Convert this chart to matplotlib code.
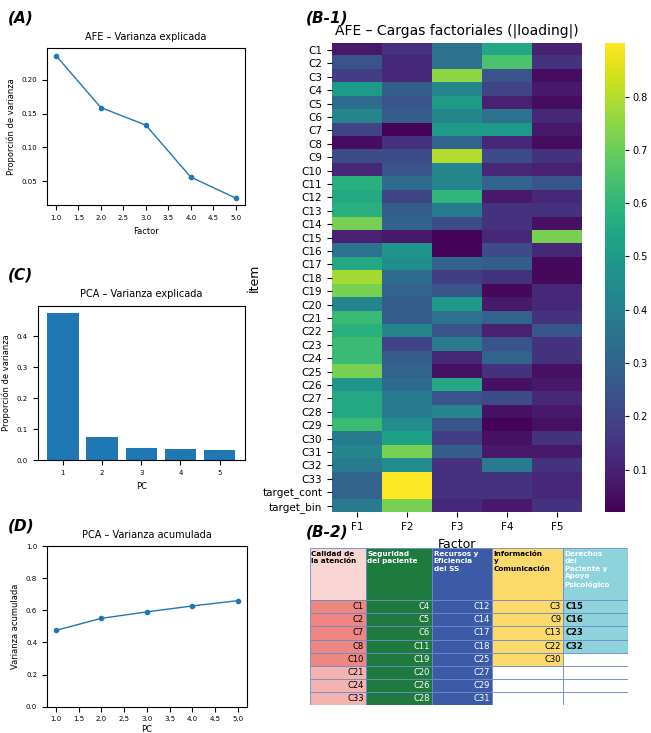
import matplotlib
matplotlib.use("Agg")
import matplotlib.pyplot as plt
import numpy as np
from matplotlib.patches import Rectangle

afe_var = [0.236, 0.159, 0.133, 0.056, 0.025]
factors = [1, 2, 3, 4, 5]
pca_var = [0.475, 0.075, 0.040, 0.037, 0.032]
pca_cum = [0.475, 0.550, 0.590, 0.627, 0.660]
items = [f"C{i}" for i in range(1, 34)] + ["target_cont", "target_bin"]
fac_labels = ["F1", "F2", "F3", "F4", "F5"]
loadings = [
    [.08, .15, .35, .55, .10], [.25, .12, .35, .65, .15], [.18, .12, .75, .25, .05],
    [.50, .28, .42, .20, .08], [.33, .25, .50, .10, .05], [.42, .28, .42, .35, .12],
    [.20, .03, .50, .50, .08], [.05, .15, .30, .12, .05], [.22, .22, .80, .22, .15],
    [.12, .25, .42, .12, .10], [.58, .33, .42, .30, .25], [.55, .20, .60, .08, .12],
    [.58, .28, .38, .15, .15], [.72, .30, .22, .15, .06], [.10, .08, .03, .12, .72],
    [.35, .48, .03, .22, .12], [.55, .45, .30, .28, .04], [.78, .33, .18, .15, .04],
    [.72, .30, .25, .04, .12], [.42, .28, .50, .08, .12], [.62, .28, .35, .30, .15],
    [.58, .42, .25, .10, .25], [.62, .20, .38, .25, .15], [.62, .28, .12, .30, .15],
    [.72, .30, .06, .15, .06], [.48, .33, .55, .06, .08], [.55, .38, .25, .22, .12],
    [.55, .38, .42, .06, .08], [.62, .45, .25, .03, .06], [.38, .52, .18, .06, .15],
    [.42, .72, .28, .08, .08], [.38, .45, .15, .38, .15], [.30, .92, .15, .15, .12],
    [.30, .92, .15, .15, .12], [.38, .72, .12, .08, .15],
]
tab_headers = ["Calidad de\nla atención", "Seguridad\ndel paciente", "Recursos y\nEficiencia\ndel SS",
               "Información\ny\nComunicación", "Derechos\ndel\nPaciente y\nApoyo\nPsicológico"]
tab_cols = [
    ["C1", "C2", "C7", "C8", "C10", "C21", "C24", "C33"],
    ["C4", "C5", "C6", "C11", "C19", "C20", "C26", "C28"],
    ["C12", "C14", "C17", "C18", "C25", "C27", "C29", "C31"],
    ["C3", "C9", "C13", "C22", "C30"],
    ["C15", "C16", "C23", "C32"],
]

fig = plt.figure(figsize=(6.51, 7.33), dpi=100)
line_c = "#1f77b4"

ax = fig.add_axes([0.072, 0.720, 0.304, 0.214])
ax.plot(factors, afe_var, marker="o", ms=3, color=line_c, lw=1)
ax.set_title("AFE – Varianza explicada", fontsize=7)
ax.set_xlabel("Factor", fontsize=6); ax.set_ylabel("Proporción de varianza", fontsize=6)
ax.tick_params(labelsize=5)

ax = fig.add_axes([0.058, 0.372, 0.318, 0.211])
ax.bar([str(f) for f in factors], pca_var, color=line_c)
ax.set_title("PCA – Varianza explicada", fontsize=7)
ax.set_xlabel("PC", fontsize=6); ax.set_ylabel("Proporción de varianza", fontsize=6)
ax.tick_params(labelsize=5)

ax = fig.add_axes([0.072, 0.036, 0.307, 0.219])
ax.plot(factors, pca_cum, marker="o", ms=3, color=line_c, lw=1)
ax.set_ylim(0, 1.0)
ax.set_title("PCA – Varianza acumulada", fontsize=7)
ax.set_xlabel("PC", fontsize=6, labelpad=2); ax.set_ylabel("Varianza acumulada", fontsize=6)
ax.tick_params(labelsize=5)

ax = fig.add_axes([0.510, 0.301, 0.384, 0.640])
im = ax.imshow(np.array(loadings), aspect="auto", cmap="viridis", vmin=0.02, vmax=0.9)
ax.set_xticks(range(5)); ax.set_xticklabels(fac_labels, fontsize=7.5)
ax.set_yticks(range(len(items))); ax.set_yticklabels(items, fontsize=7.5)
ax.set_xlabel("Factor", fontsize=9); ax.set_ylabel("Ítem", fontsize=9, labelpad=1)
ax.set_title("AFE – Cargas factoriales (|loading|)", fontsize=10)
for s in ax.spines.values(): s.set_visible(False)
cax = fig.add_axes([0.930, 0.301, 0.030, 0.640])
cb = fig.colorbar(im, cax=cax)
cb.set_ticks([0.1, 0.2, 0.3, 0.4, 0.5, 0.6, 0.7, 0.8]); cb.ax.tick_params(labelsize=7, pad=2, length=3)
cb.outline.set_visible(False)

# table
ax = fig.add_axes([0.476, 0.038, 0.489, 0.214])
ax.set_xlim(0, 318); ax.set_ylim(157, 0); ax.axis("off")
widths = [56, 66, 60, 71, 65]
hdr_bg = ["#f9d6d4", "#1f7a3e", "#3c5aa8", "#fdd86b", "#8ed3dc"]
hdr_fg = ["black", "white", "white", "black", "white"]
cell_bg = ["#ee8782", "#1f7a3e", "#3c5aa8", "#fdd86b", "#8ed3dc"]
cell_fg = ["black", "white", "white", "black", "black"]
hh, rh = 52, 13.1
x0 = 0
for j, w in enumerate(widths):
    ax.add_patch(Rectangle((x0, 0), w, hh, fc=hdr_bg[j], ec="#6a8cc7", lw=0.6))
    ax.text(x0 + 1.5, 2.5, tab_headers[j], fontsize=5.2, fontweight="bold", color=hdr_fg[j], va="top", ha="left", linespacing=1.3)
    for r in range(8):
        y = hh + r * rh
        if r < len(tab_cols[j]):
            bg = cell_bg[j]
            if j == 0 and r >= 5: bg = "#f4b2b0"
            ax.add_patch(Rectangle((x0, y), w, rh, fc=bg, ec="#6a8cc7", lw=0.6))
            if j == 4:
                ax.text(x0 + 2, y + rh / 2, tab_cols[j][r], fontsize=6, fontweight="bold", color="black", va="center", ha="left")
            else:
                ax.text(x0 + w - 2, y + rh / 2, tab_cols[j][r], fontsize=6, color=cell_fg[j], va="center", ha="right")
        else:
            ax.add_patch(Rectangle((x0, y), w, rh, fc="white", ec="#6a8cc7", lw=0.6))
    x0 += w

for txt, x, y in [("(A)", 0.012, 0.985), ("(B-1)", 0.470, 0.985), ("(C)", 0.012, 0.635),
                  ("(D)", 0.012, 0.292), ("(B-2)", 0.470, 0.285)]:
    fig.text(x, y, txt, fontsize=11, fontweight="bold", style="italic", va="top")

fig.savefig("out.png", dpi=100)
